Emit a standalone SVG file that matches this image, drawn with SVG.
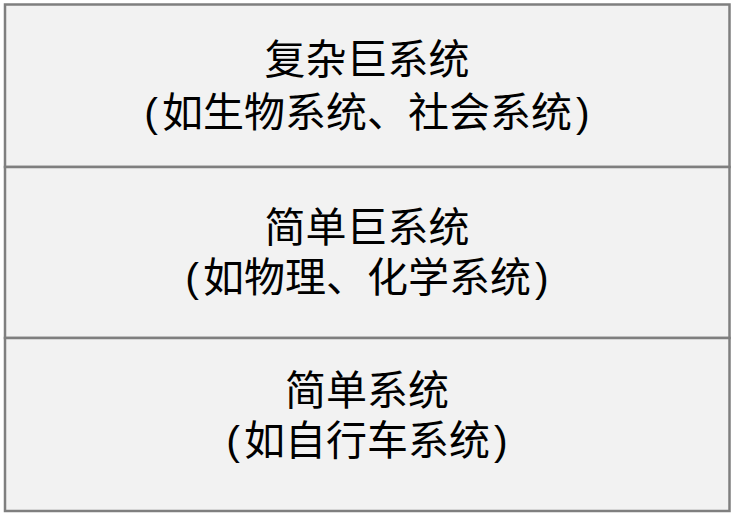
<svg xmlns="http://www.w3.org/2000/svg" width="731" height="513" viewBox="0 0 731 513">
<style>
.box{fill:#f2f2f2;stroke:#7f7f7f;stroke-width:2.5}
.t{font-family:"Liberation Sans","Noto Sans CJK SC",sans-serif;font-size:41px;fill:#000;text-anchor:middle}
</style>
<rect width="731" height="513" fill="#ffffff"/>
<g id="complex">
<rect class="box" x="5" y="4.5" width="724.5" height="162.5"/>
<text class="t" x="367" y="74">复杂巨系统</text>
<text class="t" x="367" y="127">(<tspan dx="4">如生物系统、社会系统</tspan><tspan dx="4">)</tspan></text>
</g>
<g id="simple-giant">
<rect class="box" x="5" y="167" width="724.5" height="171"/>
<text class="t" x="367" y="242">简单巨系统</text>
<text class="t" x="367" y="292">(<tspan dx="4">如物理、化学系统</tspan><tspan dx="4">)</tspan></text>
</g>
<g id="simple">
<rect class="box" x="5" y="338" width="724.5" height="173"/>
<text class="t" x="367" y="405">简单系统</text>
<text class="t" x="367" y="455">(<tspan dx="4">如自行车系统</tspan><tspan dx="4">)</tspan></text>
</g>
<g id="connectors"></g>
</svg>
